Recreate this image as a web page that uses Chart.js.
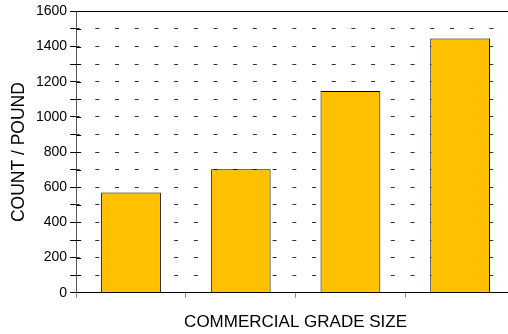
<!DOCTYPE html>
<html>
<head>
<meta charset="utf-8">
<script src="https://cdn.jsdelivr.net/npm/chart.js@4"></script>
<style>
  html, body { margin: 0; padding: 0; background: #fff; overflow: hidden; }
  #wrap { width: 520px; height: 334px; }
</style>
</head>
<body>
<div id="wrap"><canvas id="chart" width="520" height="334"></canvas></div>
<script>
// grade sizes (no labels printed under the bars)
const categories = ['1', '2', '3', '4'];
const countPerPound = [571, 703, 1148, 1446];
const yTicks = [0, 200, 400, 600, 800, 1000, 1200, 1400, 1600];

// solid line along the top of the plot + tick marks crossing the y axis
const frameLines = {
    id: 'frameLines',
    afterDraw(chart) {
        const a = chart.chartArea;
        const ctx = chart.ctx;
        const y = chart.scales.y;
        ctx.save();
        ctx.strokeStyle = '#000';
        ctx.lineWidth = 1;
        ctx.beginPath();
        ctx.moveTo(a.left, Math.round(a.top) + 0.5);
        ctx.lineTo(a.right, Math.round(a.top) + 0.5);
        y.ticks.forEach(t => {
            if (t.value === 0 || t.value === y.max) return;
            const py = Math.round(y.getPixelForValue(t.value)) + 0.5;
            ctx.moveTo(a.left, py);
            ctx.lineTo(a.left + 5, py);
        });
        ctx.stroke();
        ctx.restore();
    }
};

Chart.defaults.font.family = '"Liberation Sans", Arial, sans-serif';
Chart.defaults.font.size = 14;
Chart.defaults.color = '#000';

new Chart(document.getElementById('chart').getContext('2d'), {
    type: 'bar',
    data: {
        labels: categories,
        datasets: [{
            data: countPerPound,
            backgroundColor: '#FFC000',
            borderColor: '#000',
            borderWidth: 1,
            categoryPercentage: 1,
            barPercentage: 0.545
        }]
    },
    options: {
        responsive: false,
        animation: false,
        layout: { padding: { top: 5, right: 5, left: 9, bottom: 1 } },
        plugins: {
            legend: { display: false },
            tooltip: { enabled: false }
        },
        scales: {
            x: {
                grid: { drawOnChartArea: false, tickLength: 5, color: '#888' },
                border: { color: '#000' },
                ticks: { callback: () => '', font: { size: 4 } },
                title: {
                    display: true,
                    text: 'COMMERCIAL GRADE SIZE',
                    font: { size: 17 },
                    padding: { top: 4, bottom: 0 }
                }
            },
            y: {
                min: 0,
                max: 1600,
                ticks: {
                    stepSize: 100,
                    padding: 3,
                    autoSkip: false,
                    callback: v => yTicks.includes(v) ? String(v) : ''
                },
                grid: {
                    color: '#333',
                    tickColor: '#000',
                    tickLength: 6
                },
                border: { color: '#555', dash: [4, 15.7], dashOffset: 1.4 },
                title: {
                    display: true,
                    text: 'COUNT / POUND',
                    font: { size: 17.5 },
                    padding: { top: 0, bottom: 3 }
                }
            }
        }
    },
    plugins: [frameLines]
});
</script>
</body>
</html>
